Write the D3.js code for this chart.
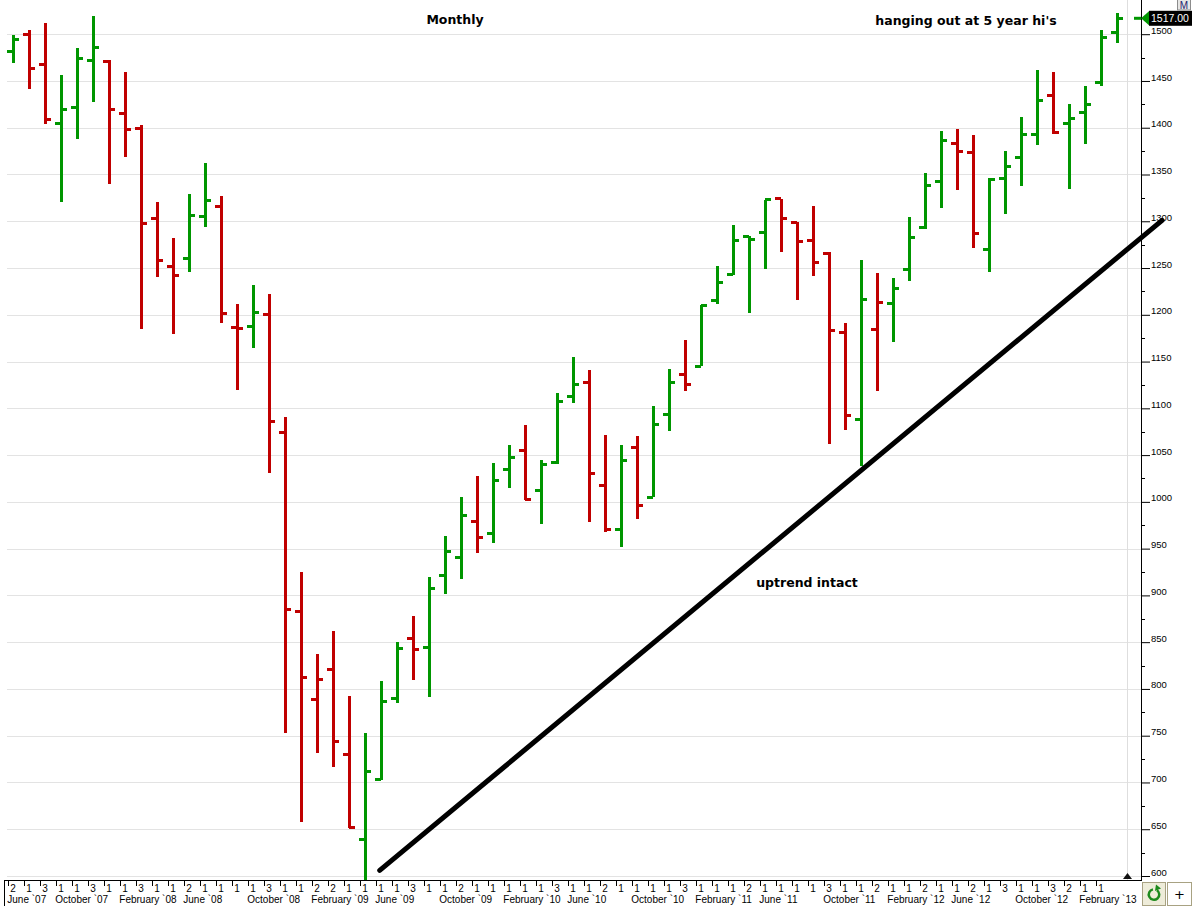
<!DOCTYPE html>
<html lang="en">
<head>
  <meta charset="utf-8">
  <title>Monthly</title>
  <script src="https://cdn.jsdelivr.net/npm/d3@7"></script>
  <style>
    body { margin: 0; background: #fff; }
    svg { display: block; }
  </style>
</head>
<body>
  <svg width="1192" height="906" id="mainsvg"></svg>
  <script>
    // monthly bars, oldest first (open / high / low / close)
    const opens  = [1482,1500,1468,1404,1422,1472,1471,1415,1399,1303,1252,1260,1305,1316,1186,1188,1200,1074,883,789,
                    821,730,639,703,790,854,844,921,941,979,966,1035,1055,1012,1042,1113,1128,1017,970,1058,
                    1005,1093,1136,1145,1215,1243,1284,1288,1324,1299,1279,1266,1181,1088,1184,1212,1248,1293,1343,1383,
                    1374,1270,1346,1368,1393,1434,1404,1416,1448,1502];
    const highs  = [1499,1504,1512,1456,1485,1519,1472,1460,1403,1321,1282,1329,1362,1327,1212,1232,1222,1091,925,837,
                    862,792,753,808,850,878,920,964,1005,1028,1042,1061,1082,1045,1116,1155,1141,1071,1061,1070,
                    1102,1142,1173,1210,1252,1296,1284,1323,1324,1299,1316,1267,1191,1259,1245,1239,1305,1352,1397,1399,
                    1392,1346,1375,1412,1462,1460,1425,1445,1505,1523];
    const lows   = [1469,1441,1404,1321,1388,1428,1340,1369,1185,1240,1179,1246,1294,1191,1120,1165,1031,753,658,732,
                    717,651,590,703,785,810,791,901,917,945,956,1015,1002,976,1041,1106,979,968,952,982,
                    1005,1076,1119,1145,1212,1243,1202,1249,1267,1216,1242,1062,1077,1038,1119,1171,1236,1292,1314,1333,
                    1271,1246,1308,1338,1382,1393,1335,1383,1445,1491];
    const closes = [1494,1463,1409,1420,1474,1486,1419,1398,1298,1258,1242,1306,1322,1201,1185,1202,1086,885,812,810,
                    744,652,712,787,843,842,907,947,985,962,1023,1047,1003,1040,1107,1125,1030,970,1044,996,
                    1083,1128,1125,1210,1235,1279,1280,1323,1303,1278,1256,1183,1092,1216,1213,1228,1283,1338,1386,1375,
                    1287,1345,1359,1393,1429,1395,1410,1425,1496,1517];
    const lastPrice = '1517.00';

    // small numbers printed beside each month tick
    const tickNumbers = ['2','1','3','1','1','3','1','1','3','1','1','2','1','1','1','1','3','1','1','2',
                         '2','1','1','1','1','3','1','1','2','1','1','1','1','1','3','1','1','2','1','1',
                         '1','1','3','1','1','1','2','1','1','1','1','3','1','1','2','1','1','2','1','1',
                         '2','1','3','1','1','3','2','1','1'];
    const monthLabels = ['June `07','October `07','February `08','June `08','October `08','February `09',
                         'June `09','October `09','February `10','June `10','October `10','February `11',
                         'June `11','October `11','February `12','June `12','October `12','February `13'];
    const monthLabelIdx = [0,3,7,11,15,19,23,27,31,35,39,43,47,51,55,59,63,67];
    const yTicks = [600,650,700,750,800,850,900,950,1000,1050,1100,1150,1200,1250,1300,1350,1400,1450,1500];
    // hand drawn trend line: [bar index, price]
    const trendStart = [22.9, 606];
    const trendEnd = [71.8, 1301];

    const bars = opens.map((o, i) => ({ i, o, h: highs[i], l: lows[i], c: closes[i] }));

    const svg = d3.select('#mainsvg');
    const width = +svg.attr('width');
    const plotBottom = 880;
    const axisX = 1141;
    const green = '#009600';
    const red = '#c00000';

    // scales
    const xScale = d3.scaleLinear().domain([0, 69]).range([13.3, 1117.3]);
    const yScale = d3.scaleLinear().domain([600, 1500]).range([876, 34.2]);

    svg.append('defs').append('clipPath').attr('id', 'plotclip')
      .append('rect').attr('x', 0).attr('y', 0).attr('width', axisX).attr('height', plotBottom);

    // grid
    const grid = svg.append('g');
    grid.selectAll('line.h').data(yTicks).join('line')
      .attr('x1', 7).attr('x2', axisX)
      .attr('y1', d => Math.round(yScale(d)) + 0.5).attr('y2', d => Math.round(yScale(d)) + 0.5)
      .attr('stroke', '#e3e3e3');
    grid.append('line')
      .attr('x1', 1127.5).attr('x2', 1127.5).attr('y1', 0).attr('y2', plotBottom)
      .attr('stroke', '#dedede');
    grid.append('path')
      .attr('d', 'M1123,879 L1127.5,873 L1132,879 Z').attr('fill', '#111');

    // right price axis
    const yAxis = d3.axisRight(yScale).tickValues(yTicks).tickSize(9).tickPadding(1)
      .tickFormat(d3.format('d'));
    const ya = svg.append('g').attr('transform', `translate(${axisX},0)`).call(yAxis);
    ya.select('.domain').remove();
    ya.selectAll('.tick line').attr('stroke', '#000');
    ya.selectAll('.tick text')
      .attr('font-family', '"Liberation Sans", Arial, sans-serif').attr('font-size', '9.5px')
      .attr('fill', '#000').attr('dy', '-0.1em');
    const minor = d3.range(625, 1525, 50);
    svg.append('g').selectAll('line').data(minor).join('line')
      .attr('x1', axisX).attr('x2', axisX + 4)
      .attr('y1', d => Math.round(yScale(d)) + 0.5).attr('y2', d => Math.round(yScale(d)) + 0.5)
      .attr('stroke', '#000');
    svg.append('line')
      .attr('x1', axisX + 0.5).attr('x2', axisX + 0.5).attr('y1', 0).attr('y2', 881)
      .attr('stroke', '#000');

    // bars
    const g = svg.append('g').attr('clip-path', 'url(#plotclip)');
    const colorOf = d => (d.i === 0 || d.c >= closes[d.i - 1]) ? green : red;
    const bg = g.selectAll('g.bar').data(bars).join('g')
      .attr('stroke', colorOf).attr('stroke-width', 3).attr('shape-rendering', 'crispEdges');
    bg.append('line')
      .attr('x1', d => xScale(d.i)).attr('x2', d => xScale(d.i))
      .attr('y1', d => yScale(d.h)).attr('y2', d => yScale(d.l));
    bg.append('line')
      .attr('x1', d => xScale(d.i) - 6).attr('x2', d => xScale(d.i))
      .attr('y1', d => yScale(d.o)).attr('y2', d => yScale(d.o));
    bg.append('line')
      .attr('x1', d => xScale(d.i)).attr('x2', d => xScale(d.i) + 6)
      .attr('y1', d => yScale(d.c)).attr('y2', d => yScale(d.c));

    // trend line
    svg.append('line')
      .attr('x1', xScale(trendStart[0])).attr('y1', yScale(trendStart[1]))
      .attr('x2', xScale(trendEnd[0])).attr('y2', yScale(trendEnd[1]))
      .attr('stroke', '#000').attr('stroke-width', 5).attr('stroke-linecap', 'round');

    // annotations
    const note = (txt, x, y) => svg.append('text').text(txt)
      .attr('x', x).attr('y', y).attr('text-anchor', 'middle')
      .attr('font-family', '"DejaVu Sans", Verdana, sans-serif').attr('font-weight', 'bold')
      .attr('font-size', '12.5px').attr('fill', '#000');
    note('Monthly', 455, 24);
    note("hanging out at 5 year hi's", 966, 25);
    note('uptrend intact', 807, 587);

    // last price marker
    const lastC = closes[closes.length - 1];
    const py = yScale(lastC);
    svg.append('line').attr('x1', 1134).attr('x2', axisX).attr('y1', py).attr('y2', py)
      .attr('stroke', green).attr('stroke-width', 3);
    svg.append('path').attr('d', `M${axisX},${py} L${axisX + 8},${py - 7} L${axisX + 8},${py + 7} Z`)
      .attr('fill', green);
    svg.append('rect').attr('x', axisX + 8).attr('y', py - 7.5).attr('width', width - axisX - 8).attr('height', 15)
      .attr('fill', '#000');
    svg.append('text').text(lastPrice).attr('x', axisX + 10).attr('y', py + 4)
      .attr('font-family', '"Liberation Sans", Arial, sans-serif').attr('font-size', '10.5px').attr('fill', '#fff');
    svg.append('rect').attr('x', 1177.5).attr('y', -1).attr('width', 13).attr('height', 11)
      .attr('fill', '#e6e6e6').attr('stroke', '#8c8c8c');
    svg.append('text').text('M').attr('x', 1184).attr('y', 8.5).attr('text-anchor', 'middle')
      .attr('font-family', '"Liberation Sans", Arial, sans-serif').attr('font-size', '10px').attr('fill', '#22226e');

    // bottom time axis
    const xa = svg.append('g');
    xa.append('line').attr('x1', 4).attr('x2', axisX + 1).attr('y1', 880.5).attr('y2', 880.5).attr('stroke', '#000');
    xa.append('line').attr('x1', 4.5).attr('x2', 4.5).attr('y1', 880).attr('y2', 906).attr('stroke', '#000');
    xa.selectAll('line.t').data(tickNumbers).join('line')
      .attr('x1', (d, i) => Math.round(xScale(i) - 5) + 0.5).attr('x2', (d, i) => Math.round(xScale(i) - 5) + 0.5)
      .attr('y1', 881).attr('y2', 886).attr('stroke', '#000');
    xa.selectAll('text.n').data(tickNumbers).join('text')
      .attr('x', (d, i) => xScale(i) - 3).attr('y', 892).text(d => d)
      .attr('font-family', '"Liberation Sans", Arial, sans-serif').attr('font-size', '10px').attr('fill', '#000');
    xa.selectAll('text.m').data(monthLabels).join('text')
      .attr('x', (d, k) => Math.max(6, xScale(monthLabelIdx[k]) - 6)).attr('y', 903).text(d => d)
      .attr('font-family', '"Liberation Sans", Arial, sans-serif').attr('font-size', '10px').attr('fill', '#000');

    // corner buttons
    svg.append('rect').attr('x', 1142.5).attr('y', 882.5).attr('width', 23).attr('height', 23)
      .attr('fill', '#eeecd9').attr('stroke', '#a8a282');
    svg.append('path')
      .attr('d', d3.arc()({ innerRadius: 4, outerRadius: 6.5, startAngle: 0.6, endAngle: 2 * Math.PI - 0.2 }))
      .attr('transform', 'translate(1154,894.5)').attr('fill', '#1d8a1d');
    svg.append('path').attr('d', 'M1156,884.5 L1161,888.5 L1155,891 Z').attr('fill', '#1d8a1d');
    svg.append('rect').attr('x', 1167.5).attr('y', 882.5).attr('width', 24).attr('height', 23)
      .attr('fill', '#fff').attr('stroke', '#a8a282');
    svg.append('text').text('+').attr('x', 1179.5).attr('y', 899).attr('text-anchor', 'middle')
      .attr('font-family', '"DejaVu Sans", sans-serif').attr('font-size', '13px').attr('fill', '#000');
  </script>
</body>
</html>
